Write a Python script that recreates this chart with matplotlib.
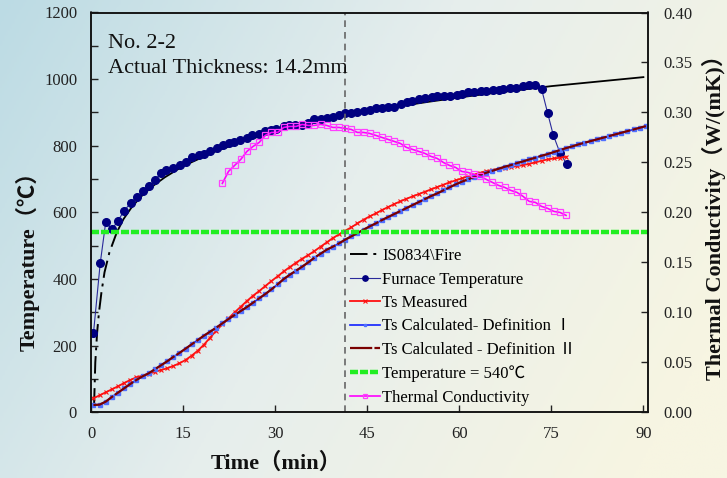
import numpy as np
import matplotlib
matplotlib.use('Agg')
import matplotlib.pyplot as plt
from matplotlib.colors import LinearSegmentedColormap

plt.rcParams['font.family'] = ['Liberation Serif', 'Noto Sans CJK SC']
plt.rcParams['axes.unicode_minus'] = False

# ---- data ----
iso_time = [0.5, 0.7, 1.0, 1.3, 1.7, 2.2, 3.0, 4.2, 5.3, 6.5, 8, 10, 12, 15, 20, 25, 30, 35, 40,
            45, 50, 55, 60, 65, 70, 75, 80, 85, 90]
iso_temp = [20, 150, 240, 300, 360, 420, 480, 540, 580, 612, 645, 678, 705, 739, 781, 815, 842, 865, 885,
            902, 918, 932, 945, 957, 968, 979, 988, 997, 1006]

furnace_time = [0.4, 1.5, 2.4, 3.4, 4.4, 5.4, 6.5, 7.5, 8.5, 9.5, 10.5, 11.4, 12.3, 13.4, 14.5, 15.5,
                16.5, 17.6, 18.4, 19.4, 20.5, 21.5, 22.5, 23.3, 24.3, 25.4, 26.3, 27.3, 28.4, 29.3,
                30.2, 31.4, 32.3, 33.3, 34.3, 35.4, 36.4, 37.4, 38.4, 39.5, 40.4, 41.4, 42.4, 43.4,
                44.4, 45.4, 46.4, 47.4, 48.4, 49.4, 50.5, 51.5, 52.3, 53.4, 54.4, 55.5, 56.4, 57.5,
                58.5, 59.6, 60.4, 61.4, 62.4, 63.5, 64.4, 65.5, 66.4, 67.2, 68.2, 69.2, 70.4, 71.4,
                72.4, 73.4, 74.4, 75.3, 76.4, 77.5]
furnace_temp = [237, 447, 571, 549, 575, 605, 629, 647, 663, 679, 698, 719, 727, 733, 741, 750,
                765, 772, 776, 783, 793, 802, 807, 811, 818, 824, 831, 835, 843, 846,
                849, 858, 861, 863, 863, 867, 879, 879, 882, 887, 891, 897, 899, 902,
                903, 906, 912, 914, 915, 917, 926, 932, 934, 939, 942, 945, 948, 948,
                949, 952, 954, 960, 962, 964, 965, 967, 968, 969, 973, 974, 979, 982,
                981, 971, 898, 833, 779, 745]

# 1-minute sampling grid of the surface temperature records
grid = [0.4 + i for i in range(91)]

ts_measured = [42, 51, 60, 69, 78, 88, 97, 105, 110, 116, 121, 127, 132, 139, 147, 157, 170, 185,
               203, 224, 245, 264, 282, 300, 317, 334, 350, 364, 379, 394, 408, 423, 436, 449,
               461, 472, 484, 497, 510, 523, 534, 545, 555, 567, 578, 588, 597, 607, 616, 625,
               633, 641, 648, 655, 662, 669, 676, 683, 690, 696, 702, 708, 713, 719, 724, 727,
               730, 733, 736, 739, 742, 746, 750, 755, 759, 762, 764, 767]

ts_calc_1 = [22, 23, 32, 46, 59, 72, 85, 97, 108, 117, 129, 141, 153, 166, 178, 191, 204, 217,
             230, 242, 254, 267, 280, 292, 304, 316, 329, 342, 355, 369, 384, 400, 413, 425,
             437, 450, 464, 476, 488, 497, 507, 518, 528, 538, 548, 558, 567, 577, 586, 595,
             604, 613, 622, 631, 640, 649, 657, 666, 675, 684, 692, 699, 706, 713, 719, 725,
             731, 737, 742, 748, 753, 759, 764, 770, 775, 781, 787, 793, 798, 804, 809, 814,
             819, 824, 829, 834, 839, 844, 849, 854, 859]
ts_calc_2 = [22, 23, 32, 46, 59, 72, 85, 97, 108, 117, 129, 141, 153, 166, 178, 191, 204, 217,
             230, 242, 254, 267, 280, 292, 304, 316, 329, 342, 355, 369, 384, 400, 413, 425,
             437, 450, 464, 476, 488, 497, 507, 518, 528, 538, 548, 558, 567, 577, 586, 595,
             604, 613, 622, 631, 640, 649, 657, 666, 675, 684, 692, 699, 706, 713, 719, 725,
             731, 737, 742, 748, 753, 759, 764, 770, 775, 781, 787, 793, 798, 804, 809, 814,
             819, 824, 829, 834, 839, 844, 849, 854, 859]

cond_time = [21.4 + i for i in range(57)]
conductivity = [0.229, 0.241, 0.247, 0.253, 0.261, 0.266, 0.270, 0.277, 0.280, 0.280, 0.285,
                0.286, 0.286, 0.288, 0.287, 0.287, 0.288, 0.287, 0.285, 0.285, 0.284, 0.283,
                0.280, 0.280, 0.279, 0.277, 0.275, 0.273, 0.271, 0.269, 0.265, 0.263, 0.261,
                0.259, 0.256, 0.254, 0.250, 0.247, 0.245, 0.241, 0.240, 0.238, 0.236, 0.233,
                0.230, 0.227, 0.225, 0.222, 0.220, 0.216, 0.211, 0.210, 0.206, 0.204, 0.201,
                0.200, 0.197]

limit_temp = 540
marker_time = 41.4

fig = plt.figure(figsize=(7.27, 4.78), dpi=100)

# background gradient (blue-grey on the left to cream on the right)
bg = fig.add_axes([0, 0, 1, 1], zorder=-10)
xx, yy = np.meshgrid(np.linspace(0, 1, 300), np.linspace(0, 1, 200))
u = np.clip(0.8 * xx + 0.3 * yy, 0, 1)
cmap = LinearSegmentedColormap.from_list('bg', ['#bcdbe4', '#e6eeed', '#f7f5e2'])
bg.imshow(u, cmap=cmap, aspect='auto', extent=[0, 1, 0, 1], origin='upper')
bg.axis('off')

ax = fig.add_axes([91 / 727, 1 - 412.3 / 478, (647.7 - 91) / 727, (412.3 - 12.5) / 478])
ax.set_facecolor('none')
ax2 = ax.twinx()

# steep start shows the dash-dot pattern, the flat part looks solid (short segments)
l1, = ax.plot(iso_time[:8], iso_temp[:8], color='black', lw=1.4, dashes=(9, 3, 1.5, 3))
ax.plot(iso_time[7:], iso_temp[7:], color='black', lw=1.3)
l2, = ax.plot(furnace_time, furnace_temp, color='#2a2a9a', lw=0.8, marker='o', ms=5.5,
              mfc='#000080', mec='#000080')
l3, = ax.plot(grid[:len(ts_measured)], ts_measured, color='#ff1010', lw=1.3, marker='x', ms=3.5,
              mew=0.8)
l4, = ax.plot(grid, ts_calc_1, color='#1020ff', lw=1.2, marker='s', ms=2.2, mfc='#5070ff',
              mec='#5070ff')
l5, = ax.plot(grid, ts_calc_2, color='#7a0000', lw=1.6, dashes=(10, 1))
l6 = ax.axhline(limit_temp, color='#22ee22', lw=3.2, dashes=(1.8, 0.45))
ax.axvline(marker_time, color='#666666', lw=1.2, dashes=(4, 3))
l7, = ax2.plot(cond_time, conductivity, color='#ff00ff', lw=1.2, marker='s', ms=5,
               mfc='none', mec='#ff40ff', mew=0.9)

ax.set_xlim(0, 90.7)
ax.set_ylim(0, 1200)
ax2.set_ylim(0, 0.4)
ax.set_xticks([0, 15, 30, 45, 60, 75, 90])
ax.set_yticks(range(0, 1201, 200))
ax.set_yticks(range(100, 1200, 200), minor=True)
ax2.set_yticks([0, 0.05, 0.1, 0.15, 0.2, 0.25, 0.3, 0.35, 0.4])
ax2.set_yticklabels(['%.2f' % v for v in ax2.get_yticks()])

ax.tick_params(axis='both', which='both', direction='in', labelsize=12, colors='#222222',
               length=5, width=1)
ax.tick_params(axis='x', pad=10)
ax.tick_params(axis='y', pad=10)
ax.tick_params(axis='x', which='minor', bottom=False)
ax2.tick_params(axis='y', direction='in', labelsize=12, colors='#222222', length=5, width=1, pad=11)
for a in (ax, ax2):
    for s in a.spines.values():
        s.set_color('#111111')
        s.set_linewidth(1.1)

fig.text(108 / 727, 1 - 48 / 478, 'No. 2-2', fontsize=16, color='#111111')
fig.text(108 / 727, 1 - 72.7 / 478, 'Actual Thickness: 14.2mm', fontsize=16, color='#111111')

fig.text(276 / 727, 1 - 463 / 478, 'Time（min）', fontsize=16, fontweight='bold',
         ha='center', va='center', color='#111111')
fig.text(28 / 727, 1 - 256 / 478, 'Temperature（℃）', fontsize=16, fontweight='bold',
         rotation=90, ha='center', va='center', color='#111111')
fig.text(714 / 727, 1 - 212 / 478, 'Thermal Conductivity（W/(mK)）', fontsize=16,
         fontweight='bold', rotation=90, ha='center', va='center', color='#111111')

ax.legend([l1, l2, l3, l4, l5, l6, l7],
          ['IS0834\\Fire', 'Furnace Temperature', 'Ts Measured', 'Ts Calculated- Definition Ⅰ',
           'Ts Calculated - Definition Ⅱ', 'Temperature = 540℃', 'Thermal Conductivity'],
          loc='upper left', bbox_to_anchor=(350 / 727, 1 - 248 / 478),
          bbox_transform=fig.transFigure, frameon=False, fontsize=12, borderpad=0,
          borderaxespad=0, handlelength=1.8, handletextpad=0.15, labelspacing=0.45,
          markerscale=0.7)

fig.savefig('out.png', dpi=100)
